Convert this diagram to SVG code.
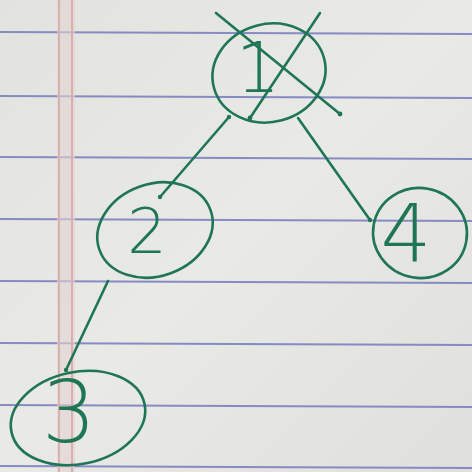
<svg xmlns="http://www.w3.org/2000/svg" width="472" height="472" viewBox="0 0 472 472">
<defs>
<linearGradient id="paper" x1="0" y1="0" x2="1" y2="1">
<stop offset="0" stop-color="#e2e2df"/>
<stop offset="0.5" stop-color="#e9e9e6"/>
<stop offset="1" stop-color="#dfdfdb"/>
</linearGradient>
<style>
.rule{stroke:#858bc3;stroke-width:2;fill:none}
.pen{stroke:#1f7655;stroke-width:2.6;fill:none;stroke-linecap:round;stroke-linejoin:round}
.dot{fill:#1f7655}
.dig{fill:#1f7655;font-family:"DejaVu Sans","Liberation Sans",sans-serif;font-weight:200;text-anchor:middle}
</style>
</defs>
<rect width="472" height="472" fill="url(#paper)"/>
<g id="paper-lines">
<line class="rule" x1="0" y1="32" x2="472" y2="34"/>
<line class="rule" x1="0" y1="96" x2="472" y2="98"/>
<line class="rule" x1="0" y1="157" x2="472" y2="159"/>
<line class="rule" x1="0" y1="219" x2="472" y2="221"/>
<line class="rule" x1="0" y1="281" x2="472" y2="283"/>
<line class="rule" x1="0" y1="343" x2="472" y2="345"/>
<line class="rule" x1="0" y1="405" x2="472" y2="407"/>
<line class="rule" x1="0" y1="466" x2="472" y2="468"/>
<rect x="57" y="0" width="18" height="472" fill="#e3d2d0" opacity="0.6"/>
<line x1="59" y1="0" x2="59" y2="472" stroke="#d9b0b0" stroke-width="2"/>
<line x1="72" y1="0" x2="72" y2="472" stroke="#d9b0b0" stroke-width="2"/>
</g>
<g id="connectors">
<path class="pen" d="M229 117 L160 197"/>
<path class="pen" d="M298 118 L370 220"/>
<path class="pen" d="M108 281 L66 370"/>
<circle class="dot" cx="229" cy="117" r="2.2"/>
<circle class="dot" cx="160" cy="197" r="2.2"/>
<circle class="dot" cx="370" cy="220" r="2.2"/>
<circle class="dot" cx="66" cy="370" r="2.2"/>
</g>
<g id="node1">
<ellipse class="pen" cx="269" cy="73" rx="57" ry="49" transform="rotate(-15 269 73)"/>
<text class="dig" x="258" y="92" font-size="70">1</text>
<path class="pen" d="M216 13 L340 114"/>
<path class="pen" d="M320 13 L250 118"/>
<circle class="dot" cx="340" cy="114" r="2.4"/>
<circle class="dot" cx="250" cy="118" r="2.4"/>
</g>
<g id="node2">
<ellipse class="pen" cx="155" cy="230" rx="59" ry="46" transform="rotate(-20 155 230)"/>
<text class="dig" x="147" y="253" font-size="62">2</text>
</g>
<g id="node3">
<ellipse class="pen" cx="78" cy="418" rx="68" ry="46" transform="rotate(-12 78 418)"/>
<text class="dig" x="69" y="442" font-size="85">3</text>
</g>
<g id="node4">
<ellipse class="pen" cx="420" cy="233" rx="47" ry="45" transform="rotate(10 420 233)"/>
<text class="dig" x="406" y="262" font-size="80">4</text>
</g>
</svg>
